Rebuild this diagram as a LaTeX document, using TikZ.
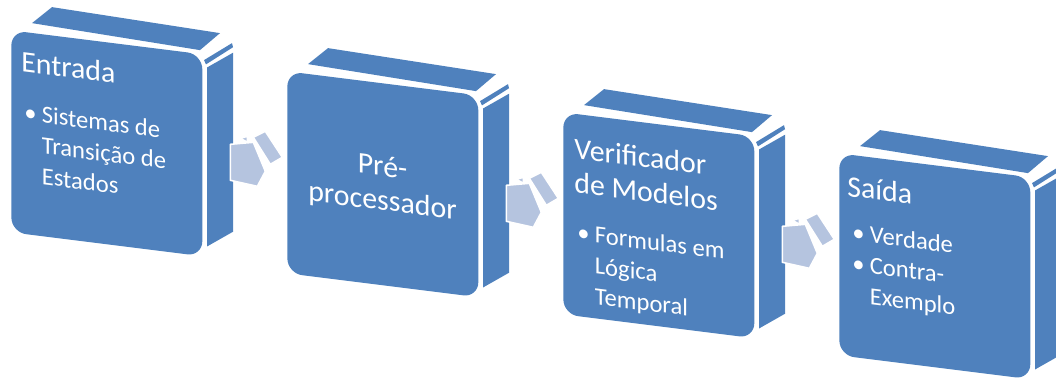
\documentclass[tikz,border=0pt]{standalone}
\usepackage{fontspec}
\setmainfont{Carlito}
\usetikzlibrary{positioning,calc}

\definecolor{boxblue}{HTML}{4F81BD}
\definecolor{arrowblue}{HTML}{B5C4DF}

\tikzset{
  face/.style={fill=boxblue, rounded corners=0.3cm, minimum width=3.82cm,
    minimum height=4.04cm, inner sep=0pt, anchor=north west, transform shape},
  side/.style={fill=boxblue},
  title/.style={text=white, font=\fontsize{17}{19.5}\selectfont,
    anchor=base west, inner sep=0pt, transform shape},
  items/.style={text=white, font=\fontsize{14}{17.5}\selectfont,
    anchor=base west, inner sep=0pt, transform shape},
  arrowface/.style={fill=arrowblue, draw=white, line width=0.9pt, line join=round}
}

\begin{document}
\begin{tikzpicture}[x=0.02cm, y=-0.02cm]
  \useasboundingbox (0,0) rectangle (1056,385);

  % the four blocks: top, corner strip, right side, front
  \foreach \nm/\px/\py in {entrada/11/30, prep/287/71, verif/563/112, saida/839/153}{
    \begin{scope}[shift={(\px,\py)}, yslant=-0.125]
      \fill[side] (21,-9.5) -- (41,-28) -- (209,-23) -- (189,-3.5) -- cycle;
      \fill[side] (193,6) -- (221,-14.5) -- (222,-10.5) -- (195,10) -- cycle;
      \fill[side] (196,13) -- (222,-5) -- (222,174) -- (196,192) -- cycle;
      \node[face] (\nm) at (0,0) {};
    \end{scope}
  }

  % texts
  \begin{scope}[shift={(11,30)}, yslant=-0.125]
    \node[title] (entrada-title) at (10,40) {Entrada};
    \node[items] (entrada-items) at (13,89) {\begin{tabular}[t]{@{}l@{\hspace{3pt}}l@{}}
      \textbullet & Sistemas de\\ & Transição de\\ & Estados\end{tabular}};
  \end{scope}
  \begin{scope}[shift={(287,71)}, yslant=-0.125]
    \node[title, anchor=base] (prep-title) at (95.5,93) {\begin{tabular}[t]{@{}c@{}}
      Pré-\\ processador\end{tabular}};
  \end{scope}
  \begin{scope}[shift={(563,112)}, yslant=-0.125]
    \node[title] (verif-title) at (11,45) {\begin{tabular}[t]{@{}l@{}}
      Verificador\\de Modelos\end{tabular}};
    \node[items] (verif-items) at (14,127) {\begin{tabular}[t]{@{}l@{\hspace{3pt}}l@{}}
      \textbullet & Formulas em\\ & Lógica\\ & Temporal\end{tabular}};
  \end{scope}
  \begin{scope}[shift={(839,153)}, yslant=-0.125]
    \node[title] (saida-title) at (8,42) {Saída};
    \node[items] (saida-items) at (13,86) {\begin{tabular}[t]{@{}l@{\hspace{3pt}}l@{}}
      \textbullet & Verdade\\ \textbullet & Contra-\\ & Exemplo\end{tabular}};
  \end{scope}

  % arrows between the blocks
  \foreach \a/\b in {entrada/prep, prep/verif, verif/saida}{
    \begin{scope}[shift={($(\a.east)!0.5!(\b.west)$)}]
      \filldraw[arrowface] (8.5,-26.5) -- (20.5,-32.5) -- (37.5,-6.5) -- (25.5,0.5) -- cycle;
      \filldraw[arrowface] (-14.5,-19.5) -- (8.5,-21.5) -- (20.5,7.5) -- (12.5,22.5)
        -- (-14.5,16.5) -- cycle;
      \filldraw[arrowface] (-4.5,-25.5) -- (2.5,-27.5) -- (2.5,-21.5) -- cycle;
      \draw[white, line width=0.9pt] (28.5,2.5) -- (18.5,13.5);
    \end{scope}
  }
\end{tikzpicture}
\end{document}
